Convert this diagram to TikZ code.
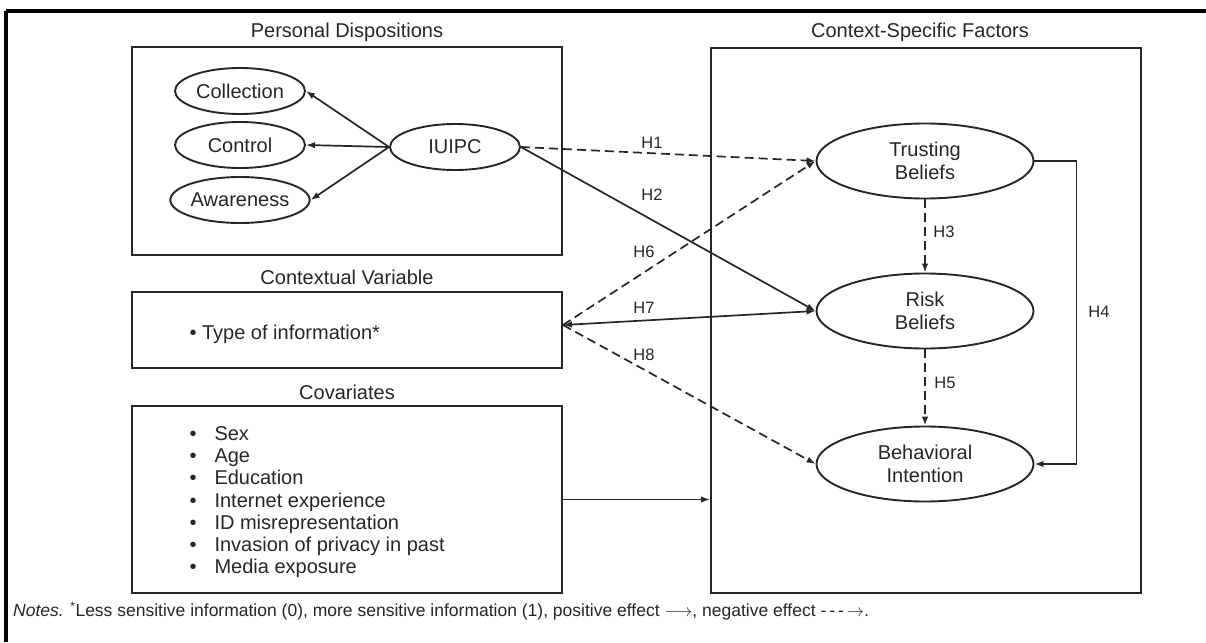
\documentclass[tikz,border=0pt]{standalone}
\usepackage{fontspec}
\setmainfont{Liberation Sans}
\usetikzlibrary{shapes.geometric,arrows.meta}

\begin{document}
\begin{tikzpicture}[x=1pt, y=-1pt, >={Latex[length=9pt,width=6.5pt]},
    ink/.style={draw=black!85, line width=1.9pt, text=black!85},
    panel/.style={ink, rectangle, minimum width=430pt, inner sep=0pt},
    facet/.style={ink, ellipse, minimum width=130pt, minimum height=46pt, inner sep=0pt, font=\fontsize{20}{24}\selectfont},
    construct/.style={ink, ellipse, minimum width=217pt, minimum height=75pt, inner sep=0pt, align=center, font=\fontsize{20}{23}\selectfont},
    title/.style={font=\fontsize{20}{24}\selectfont, text=black!85},
    hyp/.style={font=\fontsize{16.5}{18}\selectfont, text=black!85},
    posarrow/.style={draw=black!85, line width=1.7pt, ->},
    negarrow/.style={posarrow, dash pattern=on 9pt off 5pt}]
    \useasboundingbox (0,0) rectangle (1206,642);
    \draw[line width=3.2pt] (6,11) -- (1206,11);
    \draw[line width=3.2pt] (6,11) -- (6,642);

    \node[title] (pdtitle) at (347,32) {Personal Dispositions};
    \node[panel, minimum height=208pt] (pd) at (347,151) {};
    \node[facet] (coll) at (240,91) {Collection};
    \node[facet] (ctrl) at (240,145) {Control};
    \node[facet] (aware) at (240,200) {Awareness};
    \node[facet] (iuipc) at (455,147) {IUIPC};

    \node[title] (cvtitle) at (347,277) {Contextual Variable};
    \node[panel, minimum height=76pt] (cv) at (347,330) {};
    \node[title, anchor=west] (cvtext) at (186,334) {\textbullet\ Type of information*};

    \node[title] (covtitle) at (347,392) {Covariates};
    \node[panel, minimum height=187pt] (cov) at (347,499.5) {};
    \node[title, anchor=north west, align=left, font=\fontsize{20}{22.2}\selectfont] (covlist) at (186,423) {%
        \makebox[25pt][l]{\textbullet}Sex\\
        \makebox[25pt][l]{\textbullet}Age\\
        \makebox[25pt][l]{\textbullet}Education\\
        \makebox[25pt][l]{\textbullet}Internet experience\\
        \makebox[25pt][l]{\textbullet}ID misrepresentation\\
        \makebox[25pt][l]{\textbullet}Invasion of privacy in past\\
        \makebox[25pt][l]{\textbullet}Media exposure};

    \node[title] (csftitle) at (920,32) {Context-Specific Factors};
    \node[panel, minimum height=545pt] (csf) at (926,320.5) {};
    \node[construct] (trust) at (925,161) {Trusting\\Beliefs};
    \node[construct] (risk) at (925,311) {Risk\\Beliefs};
    \node[construct] (intent) at (925,464) {Behavioral\\Intention};

    \draw[posarrow] (iuipc.west) -- (coll.east);
    \draw[posarrow] (iuipc.west) -- (ctrl.east);
    \draw[posarrow] (iuipc.west) -- (aware.east);

    \coordinate (src) at ([yshift=5pt]cv.east);
    \draw[negarrow] (iuipc.east) -- (trust.west);
    \draw[posarrow] (iuipc.east) -- (risk.west);
    \draw[negarrow] (src) -- (trust.west);
    \draw[posarrow, <->] (src) -- (risk.west);
    \draw[negarrow] (src) -- (intent.west);
    \draw[negarrow] (trust.south) -- (risk.north);
    \draw[negarrow] (risk.south) -- (intent.north);
    \draw[posarrow] (trust.east) -- ++(42,0) |- (intent.east);
    \draw[posarrow] (cov.east) -- (cov.east -| csf.west);

    \node[hyp] (lh1) at (652,143) {H1};
    \node[hyp] (lh2) at (652,195) {H2};
    \node[hyp] (lh3) at (944,232) {H3};
    \node[hyp] (lh4) at (1099,312) {H4};
    \node[hyp] (lh5) at (945,383) {H5};
    \node[hyp] (lh6) at (644,252) {H6};
    \node[hyp] (lh7) at (644,308) {H7};
    \node[hyp] (lh8) at (644,355) {H8};

    \node[anchor=west, inner sep=0pt, font=\fontsize{17.5}{20}\selectfont, text=black!85] (notes) at (13,611) {\textit{Notes.} \textsuperscript{*}Less sensitive information (0), more sensitive information (1), positive effect $\longrightarrow$, negative effect -\,-\,-\,$\rightarrow$.};
\end{tikzpicture}
\end{document}
